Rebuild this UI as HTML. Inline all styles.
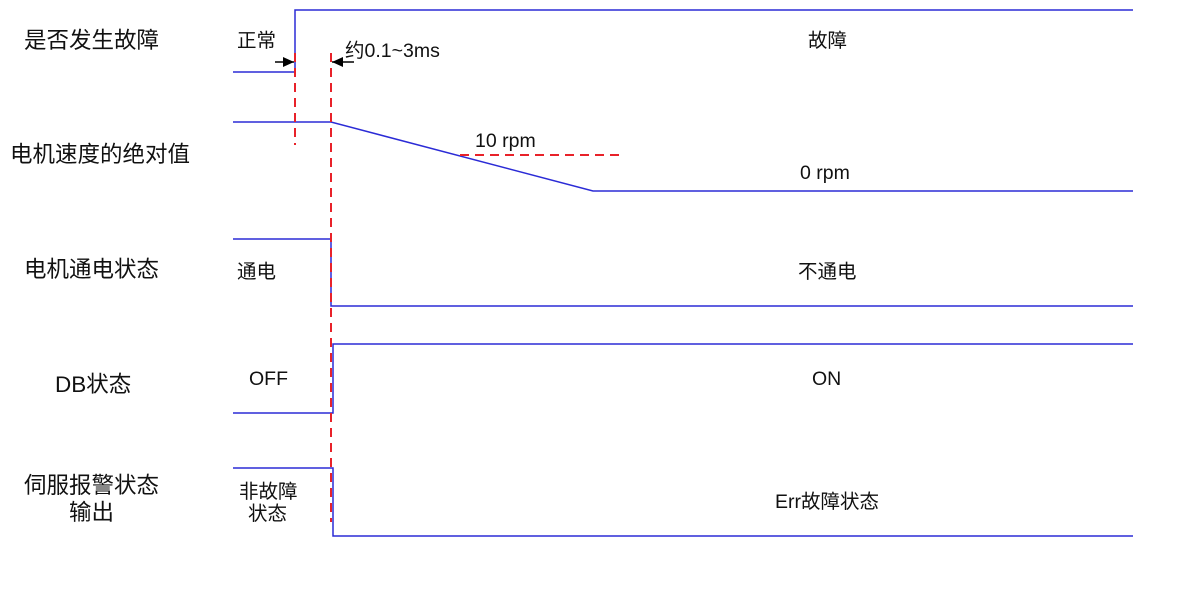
<!DOCTYPE html>
<html><head><meta charset="utf-8"><style>
html,body{margin:0;padding:0;background:#fff;}
svg text{font-family:"Liberation Sans","Noto Sans CJK SC",sans-serif;fill:#111;}
</style></head><body>
<svg width="1190" height="609" viewBox="0 0 1190 609" xmlns="http://www.w3.org/2000/svg">
<defs><marker id="ah" markerWidth="12" markerHeight="12" refX="11" refY="6" orient="auto" markerUnits="userSpaceOnUse"><path d="M0,1 L11,6 L0,11 z" fill="#000"/></marker></defs>
<g fill="none" stroke="#2b2bd6" stroke-width="1.5">
<polyline points="233,72 295,72 295,10 1133,10"/>
<polyline points="233,122 331,122 593,191 1133,191"/>
<polyline points="233,239 331,239 331,306 1133,306"/>
<polyline points="233,413 333,413 333,344 1133,344"/>
<polyline points="233,468 333,468 333,536 1133,536"/>
</g>
<g stroke="#e8222a" stroke-width="2" stroke-dasharray="9,6" fill="none">
<line x1="295" y1="53" x2="295" y2="145"/>
<line x1="331" y1="53" x2="331" y2="522"/>
<line x1="460" y1="155" x2="625" y2="155"/>
</g>
<g stroke="#000" stroke-width="1.5">
<line x1="275" y1="62" x2="294" y2="62" marker-end="url(#ah)"/>
<line x1="354" y1="62" x2="332" y2="62" marker-end="url(#ah)"/>
</g>
<g font-size="22.5">
<text x="24" y="48">是否发生故障</text>
<text x="10" y="162">电机速度的绝对值</text>
<text x="24" y="277">电机通电状态</text>
<text x="55" y="392">DB状态</text>
<text x="24" y="493">伺服报警状态</text>
<text x="69" y="520">输出</text>
</g>
<g font-size="19.5">
<text x="237" y="47">正常</text>
<text x="345" y="57">约0.1~3ms</text>
<text x="808" y="47">故障</text>
<text x="475" y="147">10 rpm</text>
<text x="800" y="179">0 rpm</text>
<text x="237" y="278">通电</text>
<text x="798" y="278">不通电</text>
<text x="249" y="385">OFF</text>
<text x="812" y="385">ON</text>
<text x="239" y="498">非故障</text>
<text x="248" y="520">状态</text>
<text x="775" y="508">Err故障状态</text>
</g>
</svg>
</body></html>
